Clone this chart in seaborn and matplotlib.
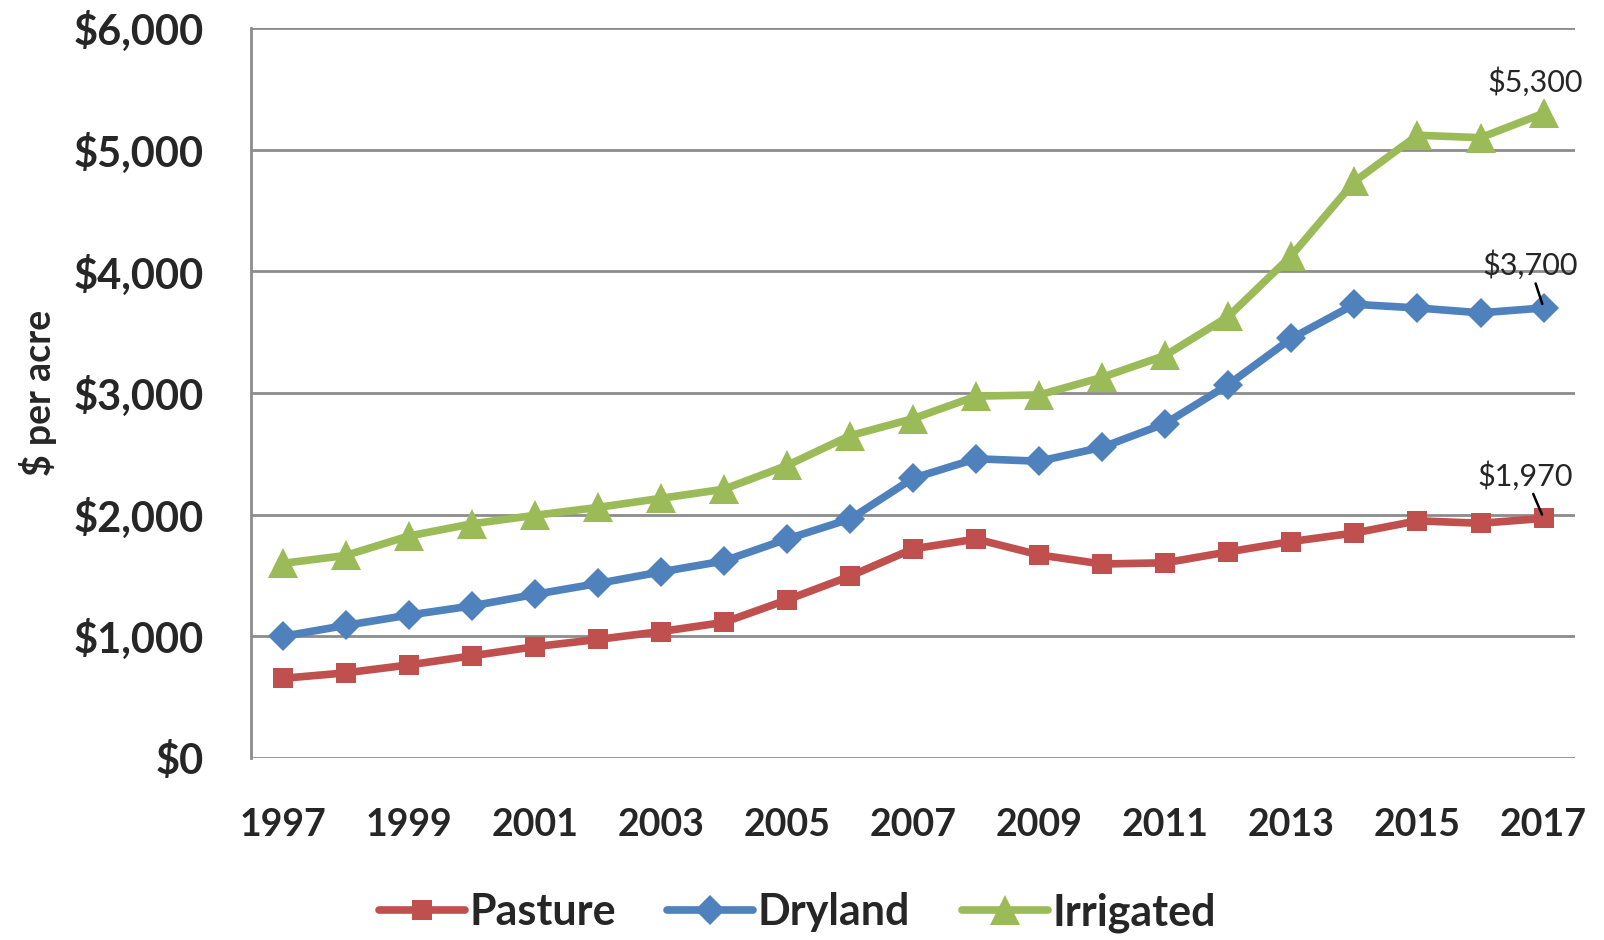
import matplotlib
matplotlib.use('Agg')
import matplotlib.pyplot as plt
import pandas as pd
import seaborn as sns

# Dados (valor médio da terra, $ por acre)
years = list(range(1997, 2018))
pasture = [655, 700, 765, 840, 915, 975, 1040, 1115, 1300, 1495, 1720, 1800,
           1670, 1595, 1605, 1695, 1780, 1850, 1950, 1930, 1970]
dryland = [1000, 1090, 1175, 1250, 1345, 1435, 1530, 1620, 1800, 1965, 2300, 2460,
           2440, 2555, 2750, 3070, 3450, 3730, 3700, 3660, 3700]
irrigated = [1600, 1665, 1825, 1925, 1995, 2060, 2135, 2210, 2405, 2650, 2790, 2975,
             2985, 3130, 3310, 3630, 4130, 4740, 5120, 5100, 5300]
series_names = ["Pasture", "Dryland", "Irrigated"]
y_ticks = [0, 1000, 2000, 3000, 4000, 5000, 6000]
x_ticks = list(range(1997, 2018, 2))

colors = {"Pasture": "#C0504D", "Dryland": "#4F81BD", "Irrigated": "#9BBB59"}
markers = {"Pasture": "s", "Dryland": "D", "Irrigated": "^"}

df = pd.DataFrame({"year": years, "Pasture": pasture,
                   "Dryland": dryland, "Irrigated": irrigated})
long_df = df.melt(id_vars="year", var_name="tipo", value_name="valor")

sns.set_style("white")
plt.rcParams['font.family'] = ['Lato', 'DejaVu Sans']
plt.rcParams['font.weight'] = 'bold'

fig = plt.figure(figsize=(16.04, 9.40), dpi=100)
ax = fig.add_axes([0.1565, 0.1936, 0.8255, 0.7764])

sns.lineplot(data=long_df, x="year", y="valor", hue="tipo", style="tipo",
             hue_order=series_names, style_order=series_names,
             palette=colors, markers=markers, dashes=False,
             linewidth=5.5, markersize=15, markeredgewidth=0, ax=ax,
             legend=False)

# Triângulos maiores, como no Excel
for line in ax.lines:
    if line.get_marker() == "^":
        line.set_markersize(21)

ax.set_xlim(1996.5, 2017.5)
ax.set_ylim(0, 6000)
ax.set_yticks(y_ticks)
ax.set_yticklabels([f"${v:,}" for v in y_ticks], fontsize=30, fontweight='bold')
ax.set_xticks(x_ticks)
ax.set_xticklabels([str(y) for y in x_ticks], fontsize=27, fontweight='bold')
ax.tick_params(axis='x', pad=36, length=0)
ax.tick_params(axis='y', pad=34, length=0)

ax.grid(axis='y', color='#8C8C8C', linewidth=2)
ax.set_axisbelow(True)
for s in ['top', 'right', 'bottom']:
    ax.spines[s].set_visible(False)
ax.spines['left'].set_color('#8C8C8C')
ax.spines['left'].set_linewidth(2)

ax.set_xlabel("")
ax.set_ylabel("$ per acre", fontsize=27, fontweight='bold', labelpad=12)

# Rótulos no último ponto
lbl_kw = dict(textcoords='offset points', ha='center', va='bottom',
              fontsize=22, fontweight='normal')
ax.annotate(f"${irrigated[-1]:,}", xy=(years[-1], irrigated[-1]), xytext=(-6, 12), **lbl_kw)
ax.annotate(f"${dryland[-1]:,}", xy=(years[-1], dryland[-1]), xytext=(-10, 20),
            arrowprops=dict(arrowstyle='-', color='black', lw=1.8, shrinkA=0, shrinkB=3), **lbl_kw)
ax.annotate(f"${pasture[-1]:,}", xy=(years[-1], pasture[-1]), xytext=(-13, 20),
            arrowprops=dict(arrowstyle='-', color='black', lw=1.8, shrinkA=0, shrinkB=3), **lbl_kw)

handles = [plt.Line2D([], [], color=colors[n], marker=markers[n], linewidth=5.5,
                      markersize=21 if markers[n] == "^" else 15, markeredgewidth=0)
           for n in series_names]
fig.legend(handles, series_names, loc='center', bbox_to_anchor=(0.497, 0.029),
           ncol=3, frameon=False, fontsize=31, handlelength=2.0,
           handletextpad=0.1, columnspacing=1.2)

plt.savefig("out.png", dpi=100)
plt.close()
